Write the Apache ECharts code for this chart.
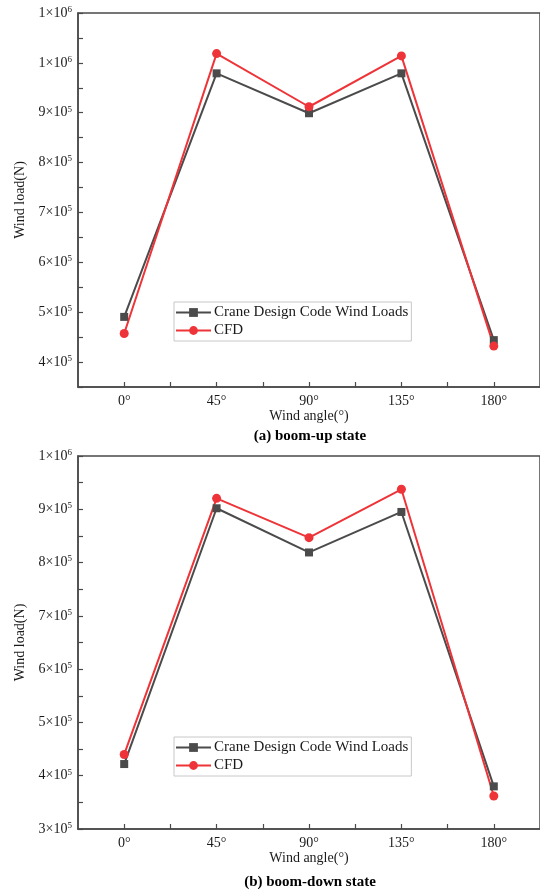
<!DOCTYPE html>
<html>
<head>
<meta charset="utf-8">
<script src="https://cdn.jsdelivr.net/npm/echarts@6/dist/echarts.min.js"></script>
<style>
html,body{margin:0;padding:0;background:#fff;}
#c{width:540px;height:894px;}
</style>
</head>
<body>
<div id="c"></div>
<script>
// ---- data ----
const angles = [0, 45, 90, 135, 180];
const seriesNames = ['Crane Design Code Wind Loads', 'CFD'];
// (a) boom-up state
const upCode = [490600, 979000, 899000, 979000, 444000];
const upCFD  = [457400, 1018600, 912000, 1014000, 432000];
// (b) boom-down state
const downCode = [421900, 901900, 819000, 895000, 380000];
const downCFD  = [439900, 920600, 846800, 937500, 362000];
// tick labels
const xTickValues = [0, 45, 90, 135, 180];
const xTickLabels = ['0°', '45°', '90°', '135°', '180°'];
const upYTickValues = [400000, 500000, 600000, 700000, 800000, 900000, 1000000, 1100000];
const upYTickLabels = ['4×10^5', '5×10^5', '6×10^5', '7×10^5', '8×10^5', '9×10^5', '1×10^6', '1×10^6'];
const downYTickValues = [300000, 400000, 500000, 600000, 700000, 800000, 900000, 1000000];
const downYTickLabels = ['3×10^5', '4×10^5', '5×10^5', '6×10^5', '7×10^5', '8×10^5', '9×10^5', '1×10^6'];
const titles = ['(a) boom-up state', '(b) boom-down state'];
const xName = 'Wind angle(°)';
const yName = 'Wind load(N)';

// ---- chart ----
const FONT = '"Liberation Serif", "Times New Roman", serif';
const AX = '#4a4a4a';
const TXT = '#1a1a1a';
const BLACK = '#4b4b4b';
const RED = '#ee3438';

function pairs(xs, ys) { return xs.map((x, i) => [x, ys[i]]); }

function yFormatter(vals, labels) {
  return function (v) {
    const i = vals.findIndex(t => Math.abs(t - v) < 1);
    if (i < 0) return '';
    const parts = labels[i].split('^');
    return '{b|' + parts[0] + '}{s|' + parts[1] + '}';
  };
}
function xFormatter(v) {
  const i = xTickValues.findIndex(t => Math.abs(t - v) < 1e-6);
  return i < 0 ? '' : xTickLabels[i];
}

const grids = [
  { left: 78, top: 13, width: 463, height: 374 },
  { left: 78, top: 456, width: 463, height: 373 }
];

function xAxis(gi) {
  return {
    type: 'value', gridIndex: gi, min: -22.5, max: 202.5, interval: 22.5,
    name: xName, nameLocation: 'middle', nameGap: 21,
    nameTextStyle: { fontFamily: FONT, fontSize: 14, color: TXT },
    axisLine: { show: true, onZero: false, lineStyle: { color: AX, width: 1.5 } },
    axisTick: { show: true, inside: true, length: 5, lineStyle: { color: AX, width: 1.2 } },
    axisLabel: { formatter: xFormatter, fontFamily: FONT, fontSize: 14, color: TXT, margin: 7,
                 showMinLabel: false, showMaxLabel: false },
    splitLine: { show: false }
  };
}
function yAxis(gi, min, max, vals, labels) {
  return {
    type: 'value', gridIndex: gi, min: min, max: max, interval: 50000,
    name: yName, nameLocation: 'middle', nameGap: 45,
    nameTextStyle: { fontFamily: FONT, fontSize: 14, color: TXT },
    axisLine: { show: true, onZero: false, lineStyle: { color: AX, width: 1.5 } },
    axisTick: { show: true, inside: true, length: 5, lineStyle: { color: AX, width: 1.2 } },
    axisLabel: {
      formatter: yFormatter(vals, labels), margin: 6,
      rich: {
        b: { fontFamily: FONT, fontSize: 14, color: TXT },
        s: { fontFamily: FONT, fontSize: 9, color: TXT, verticalAlign: 'bottom', padding: [0, 0, 7, 0] }
      }
    },
    splitLine: { show: false }
  };
}
function lineSeries(name, gi, data, color, symbol) {
  return {
    type: 'line', name: name, xAxisIndex: gi, yAxisIndex: gi,
    data: data, symbol: symbol, symbolSize: symbol === 'rect' ? 8 : 9,
    lineStyle: { color: color, width: 2 }, itemStyle: { color: color },
    showAllSymbol: true, animation: false
  };
}
function legend(top) {
  return {
    data: seriesNames, orient: 'vertical', left: 174, top: top,
    itemWidth: 35, itemHeight: 11, itemGap: 3,
    padding: [3, 3, 3, 1], borderColor: '#c8c8c8', borderWidth: 1,
    textStyle: { fontFamily: FONT, fontSize: 15, color: TXT, padding: [0, 0, 0, -2] },
    selectedMode: false
  };
}

const chart = echarts.init(document.getElementById('c'), null, { renderer: 'canvas' });
chart.setOption({
  backgroundColor: '#fff',
  animation: false,
  grid: grids.map(g => Object.assign({ show: true, borderColor: AX, borderWidth: 1.5, containLabel: false }, g)),
  xAxis: [xAxis(0), xAxis(1)],
  yAxis: [
    yAxis(0, 350000, 1100000, upYTickValues, upYTickLabels),
    yAxis(1, 300000, 1000000, downYTickValues, downYTickLabels)
  ],
  legend: [legend(302), legend(737)],
  title: [
    { text: titles[0], left: 310, textAlign: 'center', top: 429,
      textStyle: { fontFamily: FONT, fontSize: 15, fontWeight: 'bold', color: '#000' }, padding: 0 },
    { text: titles[1], left: 310, textAlign: 'center', top: 875,
      textStyle: { fontFamily: FONT, fontSize: 15, fontWeight: 'bold', color: '#000' }, padding: 0 }
  ],
  series: [
    lineSeries(seriesNames[0], 0, pairs(angles, upCode), BLACK, 'rect'),
    lineSeries(seriesNames[1], 0, pairs(angles, upCFD), RED, 'circle'),
    lineSeries(seriesNames[0], 1, pairs(angles, downCode), BLACK, 'rect'),
    lineSeries(seriesNames[1], 1, pairs(angles, downCFD), RED, 'circle')
  ]
});
</script>
</body>
</html>
